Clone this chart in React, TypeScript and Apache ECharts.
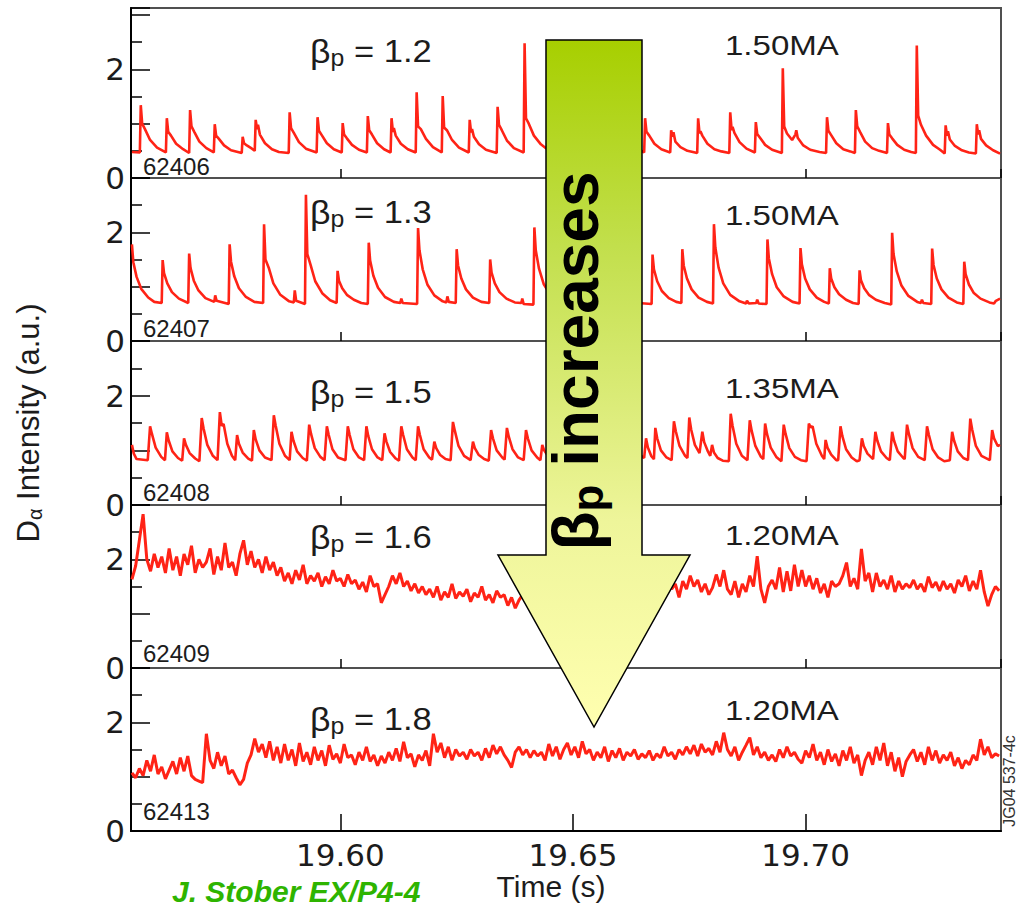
import React, { useEffect, useRef } from 'react';
import * as echarts from 'echarts';

// ---------------- data ----------------
const X_MIN = 19.555;
const X_MAX = 19.742;
const X_TICK_LABELS = ['19.60', '19.65', '19.70'];
const Y_TICK_LABELS = [0, 2];

const SHOTS = ['62406', '62407', '62408', '62409', '62413'];
const BETA_P = ['1.2', '1.3', '1.5', '1.6', '1.8'];
const CURRENTS = ['1.50MA', '1.50MA', '1.35MA', '1.20MA', '1.20MA'];

// shot 62406
const P1: [number, number][] = [
  [19.5552, 0.48], [19.5569, 0.47],
  [19.5571, 1.34], [19.5574, 1.00], [19.5580, 0.90], [19.5591, 0.70], [19.5606, 0.56], [19.5625, 0.47],
  [19.5627, 1.10], [19.5630, 0.85], [19.5636, 0.78], [19.5647, 0.63], [19.5662, 0.53], [19.5675, 0.46],
  [19.5677, 1.25], [19.5680, 0.95], [19.5686, 0.85], [19.5697, 0.67], [19.5712, 0.55], [19.5728, 0.47],
  [19.5730, 0.99], [19.5733, 0.78], [19.5739, 0.72], [19.5750, 0.60], [19.5765, 0.51], [19.5788, 0.46],
  [19.5790, 0.76], [19.5793, 0.64], [19.5799, 0.60], [19.5810, 0.54], [19.5816, 0.50],
  [19.5818, 1.07], [19.5821, 0.90], [19.5823, 0.98], [19.5827, 0.80], [19.5838, 0.64], [19.5853, 0.53], [19.5868, 0.48], [19.5889, 0.46],
  [19.5891, 1.21], [19.5894, 0.92], [19.5900, 0.83], [19.5911, 0.66], [19.5926, 0.54], [19.5949, 0.47],
  [19.5951, 1.12], [19.5954, 0.87], [19.5960, 0.79], [19.5971, 0.64], [19.5986, 0.53], [19.6003, 0.47],
  [19.6005, 1.01], [19.6008, 0.80], [19.6014, 0.73], [19.6025, 0.61], [19.6040, 0.52], [19.6057, 0.47],
  [19.6059, 1.14], [19.6062, 0.88], [19.6068, 0.80], [19.6079, 0.64], [19.6094, 0.53], [19.6108, 0.47],
  [19.6110, 1.10], [19.6113, 0.85], [19.6115, 0.92], [19.6119, 0.78], [19.6130, 0.63], [19.6145, 0.53], [19.6162, 0.47],
  [19.6164, 1.58], [19.6167, 0.95], [19.6173, 0.90], [19.6184, 0.72], [19.6199, 0.57], [19.6218, 0.47],
  [19.6220, 1.51], [19.6223, 0.93], [19.6229, 0.88], [19.6240, 0.70], [19.6255, 0.56], [19.6276, 0.47],
  [19.6278, 1.07], [19.6281, 0.84], [19.6283, 0.90], [19.6287, 0.76], [19.6298, 0.62], [19.6313, 0.52], [19.6336, 0.46],
  [19.6338, 1.31], [19.6341, 0.98], [19.6347, 0.88], [19.6358, 0.69], [19.6373, 0.55], [19.6394, 0.47],
  [19.6396, 2.48], [19.6399, 1.10], [19.6405, 1.00], [19.6416, 0.78], [19.6431, 0.62], [19.6446, 0.52], [19.6479, 0.46],
  [19.6481, 1.10], [19.6484, 0.85], [19.6490, 0.78], [19.6501, 0.63], [19.6516, 0.53], [19.6531, 0.49], [19.6550, 0.46],
  [19.6552, 1.00], [19.6555, 0.79], [19.6561, 0.73], [19.6572, 0.60], [19.6587, 0.52], [19.6602, 0.47],
  [19.6604, 1.20], [19.6607, 0.92], [19.6613, 0.83], [19.6624, 0.66], [19.6639, 0.54], [19.6653, 0.47],
  [19.6655, 1.10], [19.6658, 0.85], [19.6664, 0.78], [19.6675, 0.63], [19.6690, 0.53], [19.6709, 0.47],
  [19.6711, 0.88], [19.6714, 0.76], [19.6716, 0.84], [19.6720, 0.67], [19.6731, 0.57], [19.6746, 0.50], [19.6767, 0.46],
  [19.6769, 1.10], [19.6772, 0.82], [19.6774, 0.86], [19.6778, 0.78], [19.6789, 0.63], [19.6804, 0.53], [19.6819, 0.49], [19.6836, 0.46],
  [19.6838, 1.21], [19.6841, 0.88], [19.6843, 0.94], [19.6847, 0.83], [19.6858, 0.66], [19.6873, 0.54], [19.6891, 0.47],
  [19.6893, 1.03], [19.6896, 0.81], [19.6902, 0.74], [19.6913, 0.61], [19.6928, 0.52], [19.6949, 0.46],
  [19.6951, 2.02], [19.6954, 0.95], [19.6960, 0.82], [19.6971, 0.70], [19.6978, 0.80], [19.6980, 0.88], [19.6983, 0.74], [19.6995, 0.60], [19.7010, 0.52], [19.7030, 0.48], [19.7044, 0.46],
  [19.7046, 1.12], [19.7049, 0.87], [19.7055, 0.79], [19.7066, 0.64], [19.7081, 0.53], [19.7096, 0.49], [19.7106, 0.46],
  [19.7108, 1.25], [19.7111, 0.95], [19.7117, 0.85], [19.7128, 0.67], [19.7143, 0.55], [19.7158, 0.50], [19.7175, 0.46],
  [19.7177, 1.01], [19.7180, 0.80], [19.7186, 0.73], [19.7197, 0.61], [19.7212, 0.52], [19.7227, 0.48], [19.7237, 0.46],
  [19.7239, 2.44], [19.7242, 1.15], [19.7248, 0.98], [19.7259, 0.78], [19.7274, 0.61], [19.7289, 0.52], [19.7299, 0.45],
  [19.7301, 0.97], [19.7304, 0.78], [19.7306, 0.86], [19.7310, 0.71], [19.7321, 0.59], [19.7336, 0.51], [19.7351, 0.47], [19.7366, 0.45],
  [19.7368, 0.99], [19.7371, 0.80], [19.7373, 0.88], [19.7377, 0.72], [19.7388, 0.60], [19.7403, 0.51], [19.7418, 0.45],
];

// shot 62407
const P2: [number, number][] = [
  [19.5552, 1.78], [19.5555, 1.45], [19.5562, 1.18], [19.5572, 0.96], [19.5587, 0.80], [19.5600, 0.72], [19.5616, 0.70],
  [19.5618, 1.49], [19.5621, 1.25], [19.5628, 1.06], [19.5638, 0.90], [19.5653, 0.78], [19.5673, 0.70],
  [19.5675, 1.61], [19.5678, 1.34], [19.5685, 1.11], [19.5695, 0.93], [19.5710, 0.79], [19.5729, 0.72], [19.5731, 0.84], [19.5734, 0.74], [19.5760, 0.68],
  [19.5762, 1.78], [19.5765, 1.46], [19.5772, 1.19], [19.5782, 0.97], [19.5797, 0.81], [19.5815, 0.72], [19.5834, 0.70],
  [19.5836, 2.15], [19.5839, 1.50], [19.5846, 1.35], [19.5856, 1.06], [19.5871, 0.85], [19.5890, 0.73], [19.5900, 0.71], [19.5902, 0.93], [19.5905, 0.74], [19.5924, 0.68],
  [19.5926, 2.69], [19.5929, 1.60], [19.5936, 1.40], [19.5946, 1.10], [19.5961, 0.88], [19.5978, 0.75], [19.5992, 0.70],
  [19.5994, 1.29], [19.5997, 1.11], [19.6004, 0.97], [19.6014, 0.85], [19.6029, 0.76], [19.6045, 0.70], [19.6059, 0.68],
  [19.6061, 1.81], [19.6064, 1.48], [19.6071, 1.20], [19.6081, 0.98], [19.6096, 0.81], [19.6115, 0.72], [19.6129, 0.70], [19.6131, 0.78], [19.6134, 0.70], [19.6165, 0.68],
  [19.6167, 2.08], [19.6170, 1.67], [19.6177, 1.32], [19.6187, 1.04], [19.6202, 0.84], [19.6220, 0.73], [19.6228, 0.71], [19.6230, 0.82], [19.6233, 0.72], [19.6248, 0.70],
  [19.6250, 1.69], [19.6253, 1.39], [19.6260, 1.15], [19.6270, 0.95], [19.6285, 0.80], [19.6303, 0.72], [19.6320, 0.70],
  [19.6322, 1.50], [19.6325, 1.26], [19.6332, 1.06], [19.6342, 0.90], [19.6357, 0.78], [19.6375, 0.71], [19.6389, 0.70], [19.6391, 0.78], [19.6394, 0.68], [19.6415, 0.67],
  [19.6417, 2.09], [19.6420, 1.67], [19.6427, 1.33], [19.6437, 1.05], [19.6452, 0.84], [19.6475, 0.72], [19.6501, 0.70],
  [19.6503, 1.90], [19.6506, 1.54], [19.6513, 1.24], [19.6523, 1.00], [19.6538, 0.82], [19.6560, 0.72], [19.6576, 0.70],
  [19.6578, 1.60], [19.6581, 1.33], [19.6588, 1.10], [19.6598, 0.92], [19.6613, 0.79], [19.6640, 0.70], [19.6669, 0.68],
  [19.6671, 1.59], [19.6674, 1.32], [19.6681, 1.10], [19.6691, 0.92], [19.6706, 0.79], [19.6722, 0.72], [19.6733, 0.70],
  [19.6735, 1.69], [19.6738, 1.39], [19.6745, 1.15], [19.6755, 0.95], [19.6770, 0.80], [19.6788, 0.72], [19.6801, 0.69],
  [19.6803, 2.15], [19.6806, 1.72], [19.6813, 1.35], [19.6823, 1.06], [19.6838, 0.85], [19.6858, 0.73], [19.6872, 0.69], [19.6874, 0.74], [19.6878, 0.69], [19.6894, 0.70], [19.6896, 0.76], [19.6899, 0.69], [19.6916, 0.68],
  [19.6918, 1.87], [19.6921, 1.52], [19.6928, 1.23], [19.6938, 0.99], [19.6953, 0.82], [19.6972, 0.72], [19.6987, 0.69],
  [19.6989, 1.71], [19.6992, 1.41], [19.6999, 1.15], [19.7009, 0.95], [19.7024, 0.80], [19.7040, 0.72], [19.7050, 0.69],
  [19.7052, 1.34], [19.7055, 1.15], [19.7062, 0.99], [19.7072, 0.86], [19.7087, 0.76], [19.7102, 0.70], [19.7114, 0.68],
  [19.7116, 1.30], [19.7119, 1.12], [19.7126, 0.97], [19.7136, 0.85], [19.7151, 0.76], [19.7170, 0.70], [19.7184, 0.67],
  [19.7186, 1.99], [19.7189, 1.60], [19.7196, 1.28], [19.7206, 1.02], [19.7221, 0.83], [19.7240, 0.72], [19.7248, 0.70], [19.7250, 0.76], [19.7253, 0.70], [19.7270, 0.68],
  [19.7272, 1.70], [19.7275, 1.40], [19.7282, 1.15], [19.7292, 0.95], [19.7307, 0.80], [19.7325, 0.71], [19.7339, 0.68],
  [19.7341, 1.46], [19.7344, 1.23], [19.7351, 1.04], [19.7361, 0.89], [19.7376, 0.78], [19.7395, 0.71], [19.7405, 0.69], [19.7409, 0.74], [19.7418, 0.78],
];

// shot 62408
const P3: [number, number][] = [
  [19.5552, 1.10], [19.5556, 0.94], [19.5562, 0.84], [19.5586, 0.82],
  [19.5591, 1.44], [19.5595, 1.30], [19.5603, 1.05], [19.5615, 0.88], [19.5623, 0.82],
  [19.5627, 1.33], [19.5631, 1.18], [19.5639, 0.98], [19.5651, 0.86], [19.5660, 0.81],
  [19.5664, 1.22], [19.5668, 1.10], [19.5676, 0.95], [19.5688, 0.85], [19.5697, 0.80],
  [19.5702, 1.59], [19.5706, 1.40], [19.5714, 1.10], [19.5726, 0.90], [19.5736, 0.82],
  [19.5741, 1.70], [19.5745, 1.45], [19.5749, 1.48], [19.5757, 1.12], [19.5767, 0.90], [19.5774, 0.82],
  [19.5778, 1.28], [19.5782, 1.12], [19.5790, 0.96], [19.5802, 0.85], [19.5810, 0.81],
  [19.5814, 1.37], [19.5818, 1.20], [19.5826, 1.00], [19.5838, 0.87], [19.5852, 0.82],
  [19.5857, 1.64], [19.5861, 1.45], [19.5869, 1.12], [19.5881, 0.90], [19.5891, 0.82],
  [19.5895, 1.34], [19.5899, 1.18], [19.5907, 0.98], [19.5919, 0.86], [19.5928, 0.81],
  [19.5933, 1.47], [19.5937, 1.30], [19.5945, 1.04], [19.5957, 0.88], [19.5966, 0.82],
  [19.5971, 1.44], [19.5975, 1.28], [19.5983, 1.02], [19.5995, 0.87], [19.6011, 0.82],
  [19.6016, 1.44], [19.6020, 1.28], [19.6028, 1.02], [19.6040, 0.87], [19.6051, 0.82],
  [19.6056, 1.44], [19.6060, 1.26], [19.6068, 1.02], [19.6080, 0.87], [19.6090, 0.82],
  [19.6095, 1.31], [19.6099, 1.16], [19.6107, 0.97], [19.6119, 0.85], [19.6126, 0.81],
  [19.6131, 1.44], [19.6135, 1.28], [19.6143, 1.02], [19.6155, 0.87], [19.6162, 0.82],
  [19.6167, 1.44], [19.6171, 1.28], [19.6179, 1.02], [19.6191, 0.87], [19.6197, 0.83],
  [19.6202, 1.16], [19.6206, 1.04], [19.6214, 0.92], [19.6226, 0.84], [19.6237, 0.82],
  [19.6242, 1.52], [19.6246, 1.36], [19.6254, 1.08], [19.6266, 0.90], [19.6280, 0.82],
  [19.6285, 1.16], [19.6289, 1.04], [19.6297, 0.92], [19.6309, 0.84], [19.6319, 0.81],
  [19.6324, 1.37], [19.6328, 1.22], [19.6336, 1.00], [19.6348, 0.87], [19.6353, 0.83],
  [19.6358, 1.41], [19.6362, 1.25], [19.6370, 1.02], [19.6382, 0.87], [19.6394, 0.82],
  [19.6399, 1.37], [19.6403, 1.22], [19.6411, 1.00], [19.6423, 0.87], [19.6430, 0.82],
  [19.6434, 1.10], [19.6438, 1.00], [19.6446, 0.90], [19.6466, 0.82],
  [19.6471, 1.40], [19.6475, 1.24], [19.6483, 1.00], [19.6495, 0.86], [19.6504, 0.82],
  [19.6509, 1.45], [19.6513, 1.28], [19.6521, 1.02], [19.6533, 0.87], [19.6543, 0.82],
  [19.6548, 1.35], [19.6552, 1.20], [19.6560, 0.98], [19.6572, 0.86], [19.6582, 0.82],
  [19.6587, 1.48], [19.6591, 1.30], [19.6599, 1.04], [19.6611, 0.88], [19.6620, 0.82],
  [19.6625, 1.38], [19.6629, 1.22], [19.6637, 1.00], [19.6649, 0.88], [19.6653, 0.86],
  [19.6657, 1.22], [19.6661, 1.05], [19.6668, 0.90], [19.6674, 0.84],
  [19.6677, 1.41], [19.6681, 1.22], [19.6689, 1.00], [19.6701, 0.87], [19.6712, 0.82],
  [19.6717, 1.53], [19.6721, 1.35], [19.6729, 1.08], [19.6741, 0.90], [19.6746, 0.86],
  [19.6750, 1.60], [19.6754, 1.38], [19.6762, 1.10], [19.6772, 0.95],
  [19.6778, 1.34], [19.6782, 1.15], [19.6790, 0.98], [19.6795, 0.90],
  [19.6799, 1.10], [19.6803, 0.96], [19.6811, 0.86], [19.6822, 0.81], [19.6835, 0.80],
  [19.6839, 1.67], [19.6843, 1.45], [19.6851, 1.12], [19.6863, 0.90], [19.6875, 0.82],
  [19.6880, 1.55], [19.6884, 1.36], [19.6892, 1.08], [19.6904, 0.88], [19.6909, 0.84],
  [19.6913, 1.49], [19.6917, 1.30], [19.6925, 1.05], [19.6937, 0.88], [19.6948, 0.80],
  [19.6953, 1.47], [19.6957, 1.30], [19.6965, 1.04], [19.6977, 0.88], [19.6990, 0.82], [19.7002, 0.80],
  [19.7007, 1.49], [19.7011, 1.42], [19.7015, 1.44], [19.7023, 1.12], [19.7035, 0.90], [19.7040, 0.84],
  [19.7043, 1.19], [19.7047, 1.05], [19.7055, 0.92], [19.7066, 0.82], [19.7070, 0.82],
  [19.7075, 1.44], [19.7079, 1.26], [19.7087, 1.02], [19.7099, 0.87], [19.7110, 0.80], [19.7116, 0.82],
  [19.7121, 1.22], [19.7125, 1.08], [19.7133, 0.94], [19.7145, 0.84],
  [19.7150, 1.34], [19.7154, 1.18], [19.7162, 0.98], [19.7174, 0.86], [19.7181, 0.82],
  [19.7186, 1.34], [19.7190, 1.18], [19.7198, 0.98], [19.7210, 0.86], [19.7213, 0.84],
  [19.7218, 1.47], [19.7222, 1.30], [19.7230, 1.04], [19.7242, 0.88], [19.7256, 0.82],
  [19.7261, 1.44], [19.7265, 1.28], [19.7273, 1.02], [19.7285, 0.87], [19.7298, 0.80], [19.7310, 0.82],
  [19.7315, 1.34], [19.7319, 1.18], [19.7327, 0.98], [19.7339, 0.86], [19.7349, 0.82],
  [19.7354, 1.58], [19.7358, 1.38], [19.7366, 1.08], [19.7378, 0.90], [19.7396, 0.82],
  [19.7401, 1.37], [19.7405, 1.22], [19.7413, 1.08], [19.7418, 1.10],
];

// shots 62409 and 62413: constant-rate samples
const NOISY_T0 = 19.5552;
const NOISY_DT = 0.0008;

const P4_V: number[] = [
  1.63, 1.88, 2.35, 2.83, 2.00, 1.78, 2.10, 1.85, 2.05, 1.75,
  2.20, 1.80, 2.05, 1.70, 2.10, 1.90, 2.25, 1.75, 2.00, 1.85,
  1.95, 2.20, 1.72, 2.05, 1.80, 2.30, 1.85, 1.95, 1.70, 2.10,
  2.35, 1.90, 2.15, 1.85, 2.00, 1.75, 2.05, 1.80, 1.95, 1.70,
  1.85, 1.60, 1.75, 1.55, 1.80, 1.62, 1.90, 1.55, 1.70, 1.60,
  1.75, 1.50, 1.68, 1.55, 1.80, 1.60, 1.65, 1.50, 1.72, 1.55,
  1.62, 1.45, 1.58, 1.40, 1.70, 1.50, 1.55, 1.20, 1.35, 1.50,
  1.70, 1.55, 1.75, 1.50, 1.60, 1.42, 1.55, 1.38, 1.50, 1.35,
  1.45, 1.30, 1.50, 1.25, 1.40, 1.30, 1.55, 1.28, 1.40, 1.32,
  1.45, 1.22, 1.38, 1.30, 1.50, 1.25, 1.35, 1.20, 1.42, 1.30,
  1.35, 1.15, 1.30, 1.10, 1.25, 1.35, 1.45, 1.30, 1.50, 1.40,
  1.45, 1.30, 1.50, 1.35, 1.55, 1.40, 1.48, 1.32, 1.50, 1.40,
  1.55, 1.35, 1.45, 1.30, 1.52, 1.38, 1.60, 1.40, 1.50, 1.35,
  1.48, 1.32, 1.55, 1.40, 1.50, 1.36, 1.58, 1.42, 1.45, 1.38,
  1.50, 1.35, 1.62, 1.42, 1.75, 1.45, 1.55, 1.30, 1.60, 1.45,
  1.70, 1.50, 1.62, 1.40, 1.55, 1.35, 1.48, 1.72, 1.50, 1.80,
  1.45, 1.35, 1.60, 1.30, 1.55, 1.40, 1.70, 1.50, 2.06, 1.45,
  1.20, 1.50, 1.62, 1.45, 1.85, 1.40, 1.78, 1.42, 1.90, 1.50,
  1.80, 1.50, 1.70, 1.45, 1.65, 1.38, 1.55, 1.30, 1.60, 1.50,
  1.55, 1.70, 1.94, 1.50, 1.65, 1.45, 2.19, 1.60, 1.75, 1.40,
  1.75, 1.50, 1.62, 1.45, 1.70, 1.40, 1.60, 1.45, 1.55, 1.48,
  1.62, 1.45, 1.55, 1.40, 1.68, 1.48, 1.58, 1.42, 1.60, 1.45,
  1.55, 1.38, 1.62, 1.50, 1.70, 1.42, 1.60, 1.45, 1.80, 1.40,
  1.14, 1.35, 1.50, 1.42,
];

const P5_V: number[] = [
  1.07, 0.98, 1.15, 1.02, 1.30, 1.10, 1.40, 1.05, 1.18, 0.96,
  1.12, 1.28, 1.05, 1.35, 1.10, 1.38, 1.02, 0.95, 0.92, 0.89,
  1.79, 1.30, 1.15, 1.45, 1.20, 1.38, 1.05, 1.12, 0.98, 0.85,
  0.95, 1.25, 1.40, 1.70, 1.45, 1.60, 1.35, 1.65, 1.30, 1.55,
  1.25, 1.60, 1.30, 1.50, 1.20, 1.62, 1.28, 1.45, 1.22, 1.55,
  1.30, 1.48, 1.20, 1.58, 1.32, 1.42, 1.25, 1.60, 1.35, 1.40,
  1.22, 1.45, 1.30, 1.55, 1.28, 1.40, 1.20, 1.38, 1.25, 1.45,
  1.30, 1.52, 1.28, 1.64, 1.35, 1.42, 1.18, 1.40, 1.30, 1.48,
  1.20, 1.79, 1.45, 1.62, 1.35, 1.55, 1.30, 1.50, 1.38, 1.45,
  1.32, 1.50, 1.38, 1.45, 1.30, 1.52, 1.35, 1.58, 1.42, 1.55,
  1.40, 1.30, 1.17, 1.45, 1.55, 1.40, 1.50, 1.35, 1.48, 1.38,
  1.45, 1.30, 1.60, 1.38, 1.55, 1.32, 1.50, 1.62, 1.40, 1.55,
  1.35, 1.65, 1.42, 1.50, 1.30, 1.45, 1.35, 1.55, 1.28, 1.48,
  1.35, 1.52, 1.30, 1.45, 1.38, 1.50, 1.32, 1.42, 1.35, 1.48,
  1.30, 1.42, 1.35, 1.55, 1.38, 1.45, 1.32, 1.50, 1.40, 1.55,
  1.42, 1.58, 1.38, 1.60, 1.45, 1.52, 1.40, 1.65, 1.45, 1.81,
  1.50, 1.38, 1.55, 1.30, 1.45, 1.58, 1.72, 1.40, 1.55, 1.35,
  1.45, 1.30, 1.40, 1.28, 1.50, 1.35, 1.55, 1.38, 1.45, 1.32,
  1.25, 1.48, 1.35, 1.60, 1.30, 1.45, 1.22, 1.50, 1.28, 1.42,
  1.20, 1.48, 1.30, 1.55, 1.25, 1.40, 1.02, 1.30, 1.45, 1.22,
  1.55, 1.30, 1.62, 1.20, 1.45, 1.10, 1.35, 1.00, 1.28, 1.40,
  1.50, 1.28, 1.45, 1.22, 1.55, 1.30, 1.48, 1.25, 1.40, 1.30,
  1.45, 1.20, 1.35, 1.15, 1.30, 1.22, 1.40, 1.30, 1.69, 1.40,
  1.55, 1.35, 1.42, 1.38,
];

const P4: [number, number][] = P4_V.map((v, i) => [NOISY_T0 + i * NOISY_DT, v]);
const P5: [number, number][] = P5_V.map((v, i) => [NOISY_T0 + i * NOISY_DT, v]);
const SERIES = [P1, P2, P3, P4, P5];

// ---------------- layout ----------------
const W = 1018;
const H = 907;
const LEFT = 131;
const RIGHT = 17;
const PANEL_TOP = [8, 178, 341, 505, 668];
const PANEL_H = [170, 163, 164, 163, 163];
const PANEL_YMAX = [3.13, 3, 3, 3, 3];
const LINE_W = [2.6, 2.6, 2.6, 3, 3];
const BETA_Y = [51, 212, 392, 537, 719];
const MA_Y = [45, 215, 388, 535, 710];
const SHOT_BOTTOM = [178, 340, 504, 665, 823];

const RED = '#ff2316';
const INK = '#1c1c1c';
const SANS = 'Liberation Sans, Arial, Helvetica, sans-serif';
const WIDE = 'DejaVu Sans, Verdana, sans-serif';

function buildOption(): echarts.EChartsOption {
  const grid: any[] = [];
  const xAxis: any[] = [];
  const yAxis: any[] = [];
  const series: any[] = [];
  const graphic: any[] = [];

  for (let i = 0; i < 5; i++) {
    const last = i === 4;
    grid.push({
      left: LEFT,
      right: RIGHT,
      top: PANEL_TOP[i],
      height: PANEL_H[i],
      show: true,
      borderColor: '#505050',
      borderWidth: 2,
      backgroundColor: 'transparent',
    });
    xAxis.push({
      type: 'value',
      gridIndex: i,
      min: X_MIN,
      max: X_MAX,
      splitNumber: 4,
      minInterval: 0.05,
      maxInterval: 0.05,
      axisLine: { show: last, onZero: false, lineStyle: { color: '#000', width: 2 } },
      axisTick: { show: true, inside: true, length: last ? 17 : 9, lineStyle: { color: '#000', width: 1.5 } },
      splitLine: { show: false },
      axisLabel: {
        show: last,
        margin: 8,
        fontSize: 31,
        fontFamily: WIDE,
        color: INK,
        showMinLabel: false,
        showMaxLabel: false,
        formatter: (v: number) => {
          const s = v.toFixed(2);
          return X_TICK_LABELS.includes(s) ? s : '';
        },
      },
      name: last ? 'Time (s)' : '',
      nameLocation: 'middle',
      nameGap: 40,
      nameTextStyle: { fontSize: 30, fontFamily: SANS, color: INK, padding: [0, 30, 0, 0] },
    });
    yAxis.push({
      type: 'value',
      gridIndex: i,
      min: 0,
      max: PANEL_YMAX[i],
      interval: 1,
      axisLine: { show: true, onZero: false, lineStyle: { color: '#000', width: 2 } },
      axisTick: { show: true, inside: true, length: 19, lineStyle: { color: '#000', width: 1.5 } },
      minorTick: { show: true, splitNumber: 2, length: 11, lineStyle: { color: '#000', width: 1.5 } },
      splitLine: { show: false },
      minorSplitLine: { show: false },
      axisLabel: {
        margin: 6,
        fontSize: 31,
        fontFamily: WIDE,
        color: INK,
        formatter: (v: number) => (Y_TICK_LABELS.includes(v) ? String(v) : ''),
      },
      ...(i === 2
        ? {
            name: '{d|D}{a|α}{d| Intensity (a.u.)}',
            nameLocation: 'middle',
            nameGap: 86,
            nameRotate: 90,
            nameTextStyle: {
              rich: {
                d: { fontSize: 31, fontFamily: SANS, color: INK, lineHeight: 34 },
                a: { fontSize: 20, fontFamily: SANS, color: INK, lineHeight: 16, verticalAlign: 'bottom' },
              },
            },
          }
        : {}),
    });
    series.push({
      type: 'line',
      name: SHOTS[i],
      xAxisIndex: i,
      yAxisIndex: i,
      data: SERIES[i],
      showSymbol: false,
      symbol: 'none',
      lineStyle: { color: RED, width: LINE_W[i] },
      clip: true,
      z: 2,
    });

    // annotations
    graphic.push({
      type: 'text',
      x: 310,
      y: BETA_Y[i],
      scaleX: 1.08,
      z: 50,
      style: {
        text: `{b|β}{s|p}{t| = ${BETA_P[i]}}`,
        verticalAlign: 'middle',
        align: 'left',
        rich: {
          b: { fontSize: 33, fontFamily: SANS, fill: INK, lineHeight: 36 },
          s: { fontSize: 23, fontFamily: SANS, fill: INK, lineHeight: 22, verticalAlign: 'bottom' },
          t: { fontSize: 32, fontFamily: SANS, fill: INK, lineHeight: 36 },
        },
      },
    });
    graphic.push({
      type: 'text',
      x: 725,
      y: MA_Y[i],
      scaleX: 1.18,
      z: 50,
      style: {
        text: CURRENTS[i],
        fontSize: 28,
        fontFamily: SANS,
        fill: INK,
        verticalAlign: 'middle',
        align: 'left',
      },
    });
    graphic.push({
      type: 'text',
      x: 143,
      y: SHOT_BOTTOM[i],
      z: 50,
      style: {
        text: SHOTS[i],
        fontSize: 24,
        fontFamily: SANS,
        fill: INK,
        verticalAlign: 'bottom',
        align: 'left',
      },
    });
  }

  // big arrow
  graphic.push({
    type: 'polygon',
    z: 100,
    shape: {
      points: [
        [546, 40], [642, 40], [642, 555], [690, 555], [594, 727], [498, 555], [546, 555],
      ],
    },
    style: {
      fill: new echarts.graphic.LinearGradient(0, 0, 0, 1, [
        { offset: 0, color: '#a7cf00' },
        { offset: 0.3, color: '#c2df4c' },
        { offset: 0.7, color: '#eef59a' },
        { offset: 1, color: '#ffffb0' },
      ]),
      stroke: '#000',
      lineWidth: 1.5,
    },
  });
  graphic.push({
    type: 'text',
    z: 101,
    x: 576,
    y: 361,
    rotation: Math.PI / 2,
    style: {
      text: '{b|β}{s|p}{m| increases}',
      align: 'center',
      verticalAlign: 'middle',
      rich: {
        b: { fontSize: 64, fontWeight: 'bold', fontFamily: SANS, fill: '#000', lineHeight: 66 },
        s: { fontSize: 44, fontWeight: 'bold', fontFamily: SANS, fill: '#000', lineHeight: 32, verticalAlign: 'bottom' },
        m: { fontSize: 64, fontWeight: 'bold', fontFamily: SANS, fill: '#000', lineHeight: 66 },
      },
    },
  });
  // figure id at right edge
  graphic.push({
    type: 'text',
    z: 50,
    x: 1009,
    y: 781,
    rotation: Math.PI / 2,
    style: {
      text: 'JG04 537-4c',
      fontSize: 16,
      fontFamily: SANS,
      fill: '#333',
      align: 'center',
      verticalAlign: 'middle',
    },
  });
  // green reference line at the bottom edge of the slide
  graphic.push({
    type: 'text',
    z: 40,
    x: 172,
    y: 906,
    style: {
      text: 'J. Stober EX/P4-4',
      fontSize: 30,
      lineHeight: 29,
      fontWeight: 'bold',
      fontStyle: 'italic',
      fontFamily: SANS,
      fill: '#2eb400',
      align: 'left',
      verticalAlign: 'bottom',
    },
  });

  return {
    animation: false,
    backgroundColor: '#ffffff',
    grid,
    xAxis,
    yAxis,
    series,
    graphic,
  };
}

export default function App() {
  const ref = useRef<HTMLDivElement>(null);
  useEffect(() => {
    if (!ref.current) return;
    const chart = echarts.init(ref.current, undefined, { renderer: 'svg', width: W, height: H });
    chart.setOption(buildOption());
    return () => {
      chart.dispose();
    };
  }, []);
  return (
    <div
      ref={ref}
      style={{ position: 'fixed', left: 0, top: 0, width: W, height: H, background: '#fff', overflow: 'hidden' }}
    />
  );
}
